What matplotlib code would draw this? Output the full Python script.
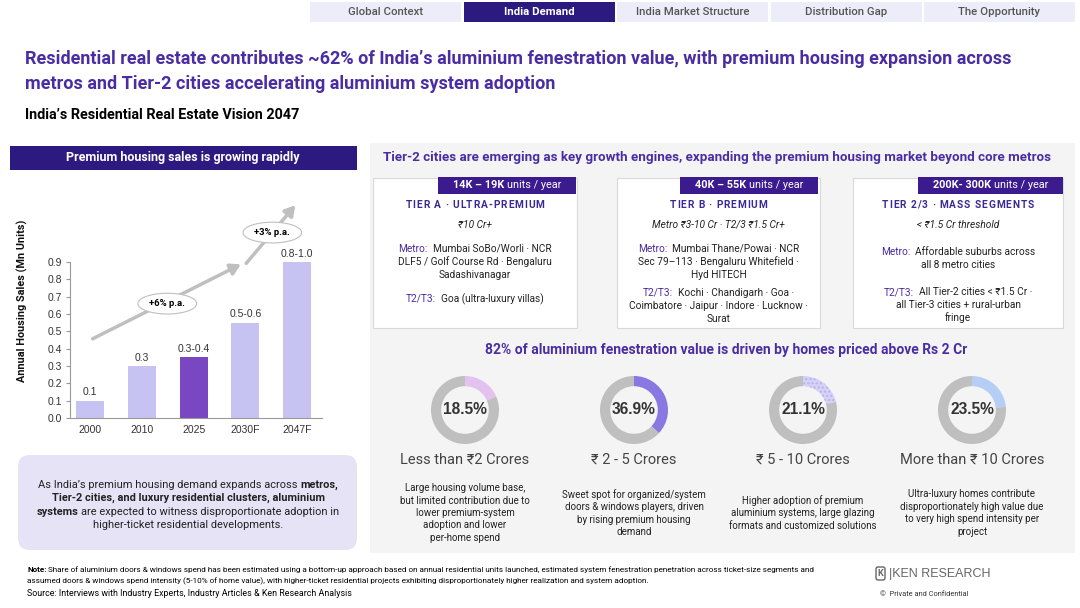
import numpy as np
import matplotlib
matplotlib.use('Agg')
import matplotlib.pyplot as plt
from matplotlib.patches import Rectangle, FancyBboxPatch

plt.rcParams['font.family'] = ['Roboto', 'DejaVu Sans']

# ---- data ----
tabs = ['Global Context', 'India Demand', 'India Market Structure', 'Distribution Gap', 'The Opportunity']
active_tab = 1

years = ['2000', '2010', '2025', '2030F', '2047F']
sales = [0.1, 0.3, 0.35, 0.55, 0.9]
sales_lbl = ['0.1', '0.3', '0.3-0.4', '0.5-0.6', '0.8-1.0']
growth = ['+6% p.a.', '+3% p.a.']

tier_units = ['14K – 19K', '40K – 55K', '200K- 300K']
tier_names = ['TIER A · ULTRA-PREMIUM', 'TIER B · PREMIUM', 'TIER 2/3 · MASS SEGMENTS']
tier_price = ['₹10 Cr+', 'Metro ₹3-10 Cr · T2/3 ₹1.5 Cr+', '< ₹1.5 Cr threshold']
tier_metro = [['Mumbai SoBo/Worli · NCR', 'DLF5 / Golf Course Rd · Bengaluru', 'Sadashivanagar'],
              ['Mumbai Thane/Powai · NCR', 'Sec 79–113 · Bengaluru Whitefield ·', 'Hyd HITECH'],
              ['Affordable suburbs across', 'all 8 metro cities']]
tier_t23 = [['Goa (ultra-luxury villas)'],
            ['Kochi · Chandigarh · Goa ·', 'Coimbatore · Jaipur · Indore · Lucknow ·', 'Surat'],
            ['All Tier-2 cities < ₹1.5 Cr ·', 'all Tier-3 cities + rural-urban', 'fringe']]

seg_names = ['Less than ₹2 Crores', '₹ 2 - 5 Crores', '₹ 5 - 10 Crores', 'More than ₹ 10 Crores']
seg_share = [18.5, 36.9, 21.1, 23.5]
seg_desc = ['Large housing volume base,\nbut limited contribution due to\nlower premium-system\nadoption and lower\nper-home spend',
            'Sweet spot for organized/system\ndoors & windows players, driven\nby rising premium housing\ndemand',
            'Higher adoption of premium\naluminium systems, large glazing\nformats and customized solutions',
            'Ultra-luxury homes contribute\ndisproportionately high value due\nto very high spend intensity per\nproject']
seg_colors = ['#E3C2F0', '#8A78E2', '#D6D2F7', '#B6CDF6']

PURPLE = '#4A2CA3'
NAVY = '#2D1A80'

fig = plt.figure(figsize=(10.8, 6.08), dpi=100)
bg = fig.add_axes([0, 0, 1, 1])
bg.set_xlim(0, 1080)
bg.set_ylim(608, 0)
bg.axis('off')
R = fig.canvas.get_renderer()


def tw(s, **kw):
    a = bg.text(0, 0, '|' + s + '|', **kw)
    b = bg.text(0, 0, '||', **kw)
    w = a.get_window_extent(R).width - b.get_window_extent(R).width
    a.remove()
    b.remove()
    return w


def rich(x, y, parts, size=7.5, ha='center'):
    ws = [tw(s, fontsize=size, **st) for s, st in parts]
    x0 = x - sum(ws) / 2 if ha == 'center' else x
    for (s, st), w in zip(parts, ws):
        lead = s[:len(s) - len(s.lstrip())]
        off = tw(lead, fontsize=size, **st) if lead else 0
        if s.strip():
            bg.text(x0 + off, y, s.strip(), fontsize=size, ha='left', va='center', **st)
        x0 += w


def tracked(x, y, s, size, track, **st):
    ws = [tw(c, fontsize=size, **st) + track for c in s]
    x0 = x - (sum(ws) - track) / 2
    for c, w in zip(s, ws):
        if c.strip():
            bg.text(x0, y, c, fontsize=size, ha='left', va='center', **st)
        x0 += w


# nav tabs
for i, t in enumerate(tabs):
    x0 = 310 + i * 153.5
    act = i == active_tab
    bg.add_patch(Rectangle((x0, 2), 151, 20, fc=NAVY if act else '#EDEDFA', ec='none'))
    bg.text(x0 + 75.5, 12, t, ha='center', va='center', fontsize=8.2,
            color='white' if act else '#555555', fontweight='bold' if act else 'medium')

# titles
bg.text(25, 59, 'Residential real estate contributes ~62% of India’s aluminium fenestration value, with premium housing expansion across',
        fontsize=13, fontweight='bold', color=PURPLE, va='center')
bg.text(25, 84, 'metros and Tier-2 cities accelerating aluminium system adoption',
        fontsize=13, fontweight='bold', color=PURPLE, va='center')
bg.text(25, 115, 'India’s Residential Real Estate Vision 2047', fontsize=10.4, fontweight='bold', color='black', va='center')

# left panel
bg.add_patch(Rectangle((10, 146), 347, 24, fc=NAVY, ec='none'))
bg.text(183, 158, 'Premium housing sales is growing rapidly', ha='center', va='center',
        fontsize=9, fontweight='bold', color='white')

bg.add_patch(FancyBboxPatch((18, 455), 339, 95, boxstyle='round,pad=0,rounding_size=12',
                            fc='#E6E3F7', ec='none'))
B = {'fontweight': 'bold', 'color': '#222222'}
N = {'color': '#222222'}
rich(188, 485, [('As India’s premium housing demand expands across ', N), ('metros,', B)], size=7.9)
rich(188, 498, [('Tier-2 cities, and luxury residential clusters, aluminium', B)], size=7.9)
rich(188, 512, [('systems', B), (' are expected to witness disproportionate adoption in', N)], size=7.9)
rich(188, 525, [('higher-ticket residential developments.', N)], size=7.9)

# bar chart
ax = fig.add_axes([70 / 1080, (608 - 418) / 608, 252 / 1080, (418 - 192.7) / 608])
ax.patch.set_alpha(0)
x = np.arange(len(years))
cols = ['#C6C3F3'] * len(years)
cols[2] = '#7A47C2'
ax.bar(x, sales, width=0.54, color=cols)
for xi, v, l in zip(x, sales, sales_lbl):
    ax.text(xi, v + 0.02, l, ha='center', va='bottom', fontsize=7.5, color='#333333',
            family=['Liberation Sans', 'DejaVu Sans'])
ax.set_xlim(-0.39, 4.48)
ax.set_ylim(0, 1.3)
ax.set_xticks(x)
ax.set_xticklabels(years)
ax.set_yticks(np.round(np.arange(0, 0.91, 0.1), 1))
ax.set_yticklabels(['%.1f' % v for v in np.arange(0, 0.91, 0.1)])
for lab in ax.get_xticklabels() + ax.get_yticklabels():
    lab.set_family(['Liberation Sans', 'DejaVu Sans'])
    lab.set_fontsize(7.5)
    lab.set_color('#333333')
ax.tick_params(axis='x', length=0, pad=5)
ax.tick_params(axis='y', length=3, color='#999999', pad=3)
for s in ['top', 'right']:
    ax.spines[s].set_visible(False)
ax.spines['left'].set_bounds(0, 0.9)
ax.spines['left'].set_color('#999999')
ax.spines['bottom'].set_color('#999999')
ax.set_ylabel('Annual Housing Sales (Mn Units)', fontsize=7.8, fontweight='bold', color='#111111')
ax.yaxis.set_label_coords(-0.165, 0.52)
arr = dict(arrowstyle='-|>,head_length=0.6,head_width=0.35', color='#BFBFBF', lw=2.5)
ax.annotate('', xy=(2.96, 0.894), xytext=(0, 0.45), arrowprops=arr)
ax.annotate('', xy=(4.0, 1.24), xytext=(2.98, 0.88), arrowprops=arr)
ax.text(1.49, 0.66, growth[0], ha='center', va='center', fontsize=6.8, fontweight='bold',
        bbox=dict(boxstyle='ellipse,pad=0.3', fc='white', ec='#BFBFBF', lw=0.8))
ax.text(3.52, 1.07, growth[1], ha='center', va='center', fontsize=6.8, fontweight='bold',
        bbox=dict(boxstyle='ellipse,pad=0.3', fc='white', ec='#BFBFBF', lw=0.8))

# right panel
bg.add_patch(Rectangle((370, 143), 705, 410, fc='#F4F4F4', ec='none'))
bg.text(717, 158, 'Tier-2 cities are emerging as key growth engines, expanding the premium housing market beyond core metros',
        ha='center', va='center', fontsize=9.6, fontweight='bold', color=PURPLE)

boxes = [(373, 577), (617, 820), (853, 1063)]
tabs_x = [(438, 576), (680, 818), (918, 1063)]
metro_y = [249, 249, 252]
t23_y = [299, 293, 292]
P = {'color': PURPLE}
K = {'color': '#222222'}
for i in range(3):
    x0, x1 = boxes[i]
    cx = (x0 + x1) / 2
    bg.add_patch(Rectangle((x0, 178), x1 - x0, 150, fc='white', ec='#D9D9D9', lw=0.8))
    t0, t1 = tabs_x[i]
    bg.add_patch(Rectangle((t0, 177), t1 - t0, 17, fc='#3B1B8E', ec='none'))
    rich((t0 + t1) / 2, 185.5, [(tier_units[i], {'color': 'white', 'fontweight': 'bold'}),
                                (' units / year', {'color': 'white'})], size=7.8)
    tracked(cx, 205, tier_names[i], 7.3, 0.9, fontweight='bold', color='#3B2A95')
    bg.text(cx, 225, tier_price[i], ha='center', va='center', fontsize=7.3, style='italic', color='#222222')
    for j, line in enumerate(tier_metro[i]):
        parts = [('Metro:  ', P), (line, K)] if j == 0 else [(line, K)]
        rich(cx, metro_y[i] + j * 13, parts, size=7.3)
    for j, line in enumerate(tier_t23[i]):
        parts = [('T2/T3:  ', P), (line, K)] if j == 0 else [(line, K)]
        rich(cx, t23_y[i] + j * 13, parts, size=7.3)

bg.text(726, 350, '82% of aluminium fenestration value is driven by homes priced above Rs 2 Cr',
        ha='center', va='center', fontsize=10, fontweight='bold', color=PURPLE)

donut_x = [465, 634, 803, 972]
for i, cx in enumerate(donut_x):
    d = fig.add_axes([(cx - 34) / 1080, (608 - 410 - 34) / 608, 68 / 1080, 68 / 608])
    wedges, _ = d.pie([seg_share[i], 100 - seg_share[i]], colors=[seg_colors[i], '#BFBFBF'],
                      startangle=90, counterclock=False, wedgeprops=dict(width=0.3, linewidth=0))
    if i == 2:
        wedges[0].set_hatch('....')
        wedges[0].set_edgecolor('#B8B2EE')
        wedges[0].set_linewidth(0)
    d.set_xlim(-1, 1)
    d.set_ylim(-1, 1)
    d.text(0, 0, '%.1f%%' % seg_share[i], ha='center', va='center', fontsize=11.2, color='#333333',
           fontweight='bold', family=['Liberation Sans', 'DejaVu Sans'])
    bg.text(cx, 460, seg_names[i], ha='center', va='center', fontsize=10.5, color='#444444')
    bg.text(cx, 513, seg_desc[i], ha='center', va='center', fontsize=7, color='#222222', linespacing=1.3)

# footer
rich(27, 570, [('Note:', {'fontweight': 'bold', 'color': 'black'}),
               (' Share of aluminium doors & windows spend has been estimated using a bottom-up approach based on annual residential units launched, estimated system fenestration penetration across ticket-size segments and',
                {'color': 'black'})], size=5.85, ha='left')
bg.text(27, 581, 'assumed doors & windows spend intensity (5-10% of home value), with higher-ticket residential projects exhibiting disproportionately higher realization and system adoption.',
        fontsize=5.85, va='center', color='black')
bg.text(27, 594, 'Source: Interviews with Industry Experts, Industry Articles & Ken Research Analysis',
        fontsize=6.4, va='center', color='black')

bg.add_patch(FancyBboxPatch((876, 567), 9, 13, boxstyle='round,pad=0,rounding_size=2',
                            fc='none', ec='#666666', lw=1.0))
bg.text(880.5, 573.5, 'K', ha='center', va='center', fontsize=6.5, fontweight='bold', color='#666666')
bg.text(889, 574, '|KEN RESEARCH', va='center', fontsize=9, color='#666666',
        family=['Liberation Sans', 'DejaVu Sans'])
bg.text(880, 594, '©  Private and Confidential', va='center', fontsize=5.3, color='#333333')

fig.savefig('out.png', dpi=100)
